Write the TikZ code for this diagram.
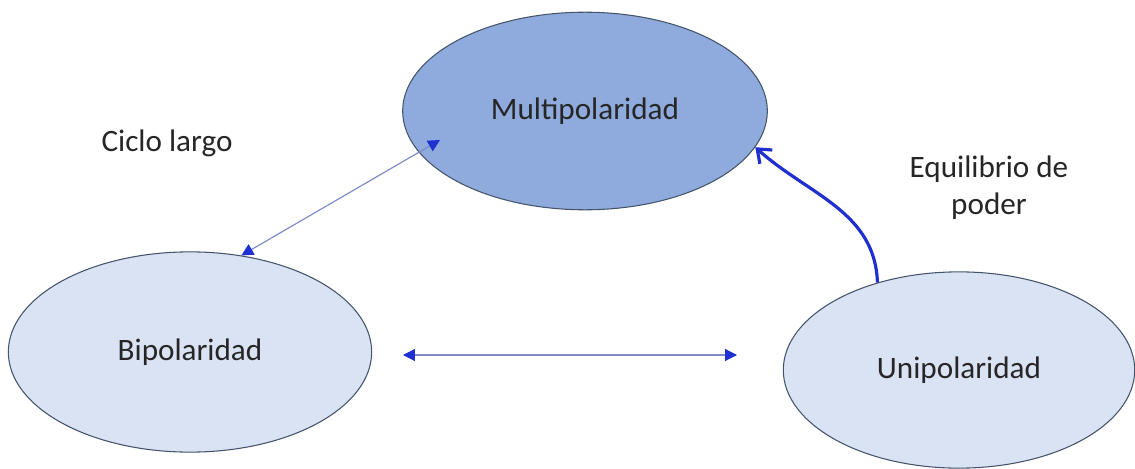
\documentclass[tikz,border=0pt]{standalone}
\usepackage{fontspec}
\setmainfont{Carlito}
\usetikzlibrary{shapes.geometric,arrows.meta}

\definecolor{lightfill}{HTML}{DAE3F3}
\definecolor{darkfill}{HTML}{8FAADC}
\definecolor{rimcol}{HTML}{44546A}
\definecolor{arrowblue}{HTML}{1F2FD0}
\definecolor{linegray}{HTML}{7F8CC8}

\begin{document}
\begin{tikzpicture}[x=0.0265cm,y=-0.0265cm,
    pole/.style={ellipse, draw=rimcol, line width=0.8pt, fill=lightfill, inner sep=0pt, text=black!85, font=\fontsize{23.5}{28}\selectfont},
    tag/.style={text=black!85, align=center, font=\fontsize{23.5}{28}\selectfont},
    thinlink/.style={draw=linegray, line width=0.9pt, {Triangle[length=9pt,width=9pt,color=arrowblue]}-{Triangle[length=9pt,width=9pt,color=arrowblue]}},
    swing/.style={draw=arrowblue, line width=2.4pt, -{Straight Barb[length=9pt,width=14pt]}}]
\useasboundingbox (0,0) rectangle (1135,469);
% the three poles
\node[pole, fill=darkfill, minimum width=275pt, minimum height=149pt] (multi) at (585,111) {Multipolaridad};
\node[pole, minimum width=274pt, minimum height=151pt] (bi) at (190,352) {Bipolaridad};
\node[pole, minimum width=265pt, minimum height=148pt] (uni) at (959,370) {Unipolaridad};
% labels
\node[tag] (ciclo) at (167,143) {Ciclo largo};
\node[tag] (equil) at (989,188) {Equilibrio de\\poder};
% connectors
\coordinate (mtip) at (440,140);
\coordinate (hleft) at (403,355);
\coordinate (hright) at (737,355);
\draw[thinlink] (bi.62) -- (mtip);
\draw[thinlink] (hleft) -- (hright);
\draw[swing] (uni.133) to[out=92,in=-42] (multi.-12);
\end{tikzpicture}
\end{document}
